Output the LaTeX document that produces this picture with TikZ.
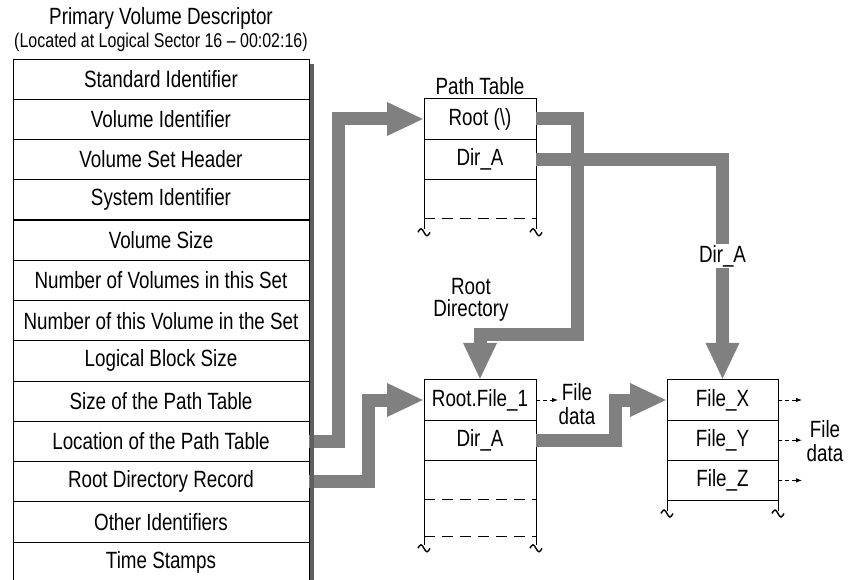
\documentclass[tikz,border=0pt]{standalone}
\usepackage{fontspec}
\setmainfont[FakeStretch=0.8]{Liberation Sans}
\usetikzlibrary{arrows.meta,positioning}
\tikzset{>=latex}
\definecolor{flowgray}{RGB}{128,128,128}
\definecolor{shadegray}{RGB}{95,95,95}
\tikzset{
  field/.style={draw, line width=0.9pt, minimum height=40.2pt, inner sep=0pt, outer sep=0pt, font=\fontsize{23.5}{24}\selectfont},
  caption/.style={align=center, inner sep=1pt, font=\fontsize{23.5}{22}\selectfont},
  flow/.style={draw=flowgray, line width=13pt, -{Triangle[width=31pt,length=37pt]}},
  tick/.style={-{Latex[length=6pt,width=4.5pt]}, line width=0.9pt, dash pattern=on 4pt off 3pt},
  gap/.style={line width=0.9pt, dash pattern=on 11pt off 7pt}
}
\newcommand{\BreakMark}[1]{\draw[line width=1.4pt] #1 ++(-6,0) sin ++(3,-3.5) cos ++(3,3.5) sin ++(3,3.5) cos ++(3,-3.5);}

\begin{document}
\begin{tikzpicture}[x=1pt,y=-1pt]
  \useasboundingbox (0,0) rectangle (849,580);
  % primary volume descriptor
  \node[caption] (pvdtitle) at (161,18) {Primary Volume Descriptor};
  \node[caption, font=\fontsize{20}{22}\selectfont] (pvdsub) at (161,42) {(Located at Logical Sector 16 -- 00:02:16)};
  \foreach \txt [count=\i from 0] in {Standard Identifier, Volume Identifier, Volume Set Header,
      System Identifier, Volume Size, Number of Volumes in this Set, Number of this Volume in the Set,
      Logical Block Size, Size of the Path Table, Location of the Path Table, Root Directory Record,
      Other Identifiers, Time Stamps}
    \node[field, minimum width=296pt] (pvd\i) at (161, {79.1+40.25*\i}) {\txt};
  % path table
  \node[field, minimum width=112pt] (ptroot) at (480,119) {Root (\textbackslash)};
  \node[field, minimum width=112pt, below=0pt of ptroot] (ptdir) {Dir\_A};
  \node[caption, above=3pt of ptroot] (pttitle) {Path Table};
  \draw[line width=0.9pt] (ptdir.south west) -- ++(0,50);
  \draw[line width=0.9pt] (ptdir.south east) -- ++(0,50);
  \draw[gap] ([yshift=-39pt]ptdir.south west) -- ([yshift=-39pt]ptdir.south east);
  \BreakMark{(ptdir.south west) ++(0,53)}
  \BreakMark{(ptdir.south east) ++(0,53)}
  % root directory
  \node[field, minimum width=112pt] (rdfile) at (480,400) {Root.File\_1};
  \node[field, minimum width=112pt, below=0pt of rdfile] (rddir) {Dir\_A};
  \draw[line width=0.9pt] (rddir.south west) -- ++(0,85);
  \draw[line width=0.9pt] (rddir.south east) -- ++(0,85);
  \draw[gap] ([yshift=-39pt]rddir.south west) -- ([yshift=-39pt]rddir.south east);
  \draw[gap] ([yshift=-76pt]rddir.south west) -- ([yshift=-76pt]rddir.south east);
  \BreakMark{(rddir.south west) ++(0,88)}
  \BreakMark{(rddir.south east) ++(0,88)}
  \node[caption] (rdtitle) at (471,300) {Root\\Directory};
  % directory A
  \node[field, minimum width=111pt] (filex) at (722.5,400) {File\_X};
  \node[field, minimum width=111pt, below=0pt of filex] (filey) {File\_Y};
  \node[field, minimum width=111pt, below=0pt of filey] (filez) {File\_Z};
  \draw[line width=0.9pt] (filez.south west) -- ++(0,10);
  \draw[line width=0.9pt] (filez.south east) -- ++(0,10);
  \BreakMark{(filez.south west) ++(0,13)}
  \BreakMark{(filez.south east) ++(0,13)}
  % pointers
  \draw[flow] (pvd9.east) -- ++(29,0) |- (ptroot.west);
  \draw[flow] (pvd10.east) -- ++(59,0) |- (rdfile.west);
  \draw[flow] (ptroot.east) -- ++(41,0) -- ++(0,215) -| (rdfile.north);
  \draw[flow] (ptdir.east) -| (filex.north) node[pos=0.72, fill=white, text=black, inner sep=1pt, font=\fontsize{23.5}{24}\selectfont] (dirlabel) {Dir\_A};
  \draw[flow] (rddir.east) -- ++(79,0) |- (filex.west);
  \fill[shadegray] (309.5,64) rectangle (314,582);
  % file data
  \node[caption, font=\fontsize{23.5}{24}\selectfont] (fdata1) at (577,404) {File\\data};
  \node[caption, font=\fontsize{23.5}{24}\selectfont] (fdata2) at (825,441) {File\\data};
  \draw[tick] (rdfile.east) -- ++(22,0);
  \draw[tick] (filex.east) -- ++(24,0);
  \draw[tick] (filey.east) -- ++(24,0);
  \draw[tick] (filez.east) -- ++(24,0);
\end{tikzpicture}
\end{document}
